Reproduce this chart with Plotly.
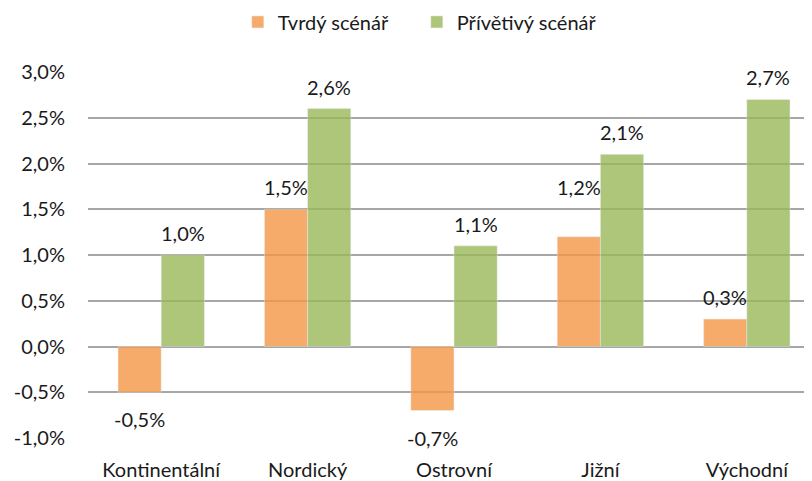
import plotly.graph_objects as go

regions = ["Kontinentální", "Nordický", "Ostrovní", "Jižní", "Východní"]
tvrdy = [-0.5, 1.5, -0.7, 1.2, 0.3]
privetivy = [1.0, 2.6, 1.1, 2.1, 2.7]

y_ticks = [-1.0, -0.5, 0.0, 0.5, 1.0, 1.5, 2.0, 2.5, 3.0]
y_tick_labels = ["-1,0%", "-0,5%", "0,0%", "0,5%", "1,0%", "1,5%", "2,0%", "2,5%", "3,0%"]

# bars are slightly see-through so the gridlines show faintly, as in the original
ORANGE = "#F69747"
GREEN = "#9AB858"
FONT = "Lato"
TEXT = "#1a1a1a"
FS = 20


def pct(v):
    return f"{v:.1f}%".replace(".", ",")


fig = go.Figure()
fig.add_bar(x=regions, y=tvrdy, name="Tvrdý scénář", marker_color=ORANGE, opacity=0.8)
fig.add_bar(x=regions, y=privetivy, name="Přívětivý scénář", marker_color=GREEN, opacity=0.8)

# data labels placed like the Excel original (a bit further off the bar ends)
for series, dx in ((tvrdy, -21.6), (privetivy, 21.6)):
    for reg, v in zip(regions, series):
        shift = 22 if v >= 0 else -27
        if series is tvrdy and reg == "Jižní":
            shift = 50  # moved up in the original
        fig.add_annotation(
            x=reg, y=v, text=pct(v), showarrow=False,
            xshift=dx, yshift=shift,
            font=dict(family=FONT, size=FS, color=TEXT),
        )

# page body adds 8px, so margins are measured 8px less than on screen
fig.update_layout(
    width=812,
    height=481,
    margin=dict(l=80, r=0, t=64, b=51, autoexpand=False),
    paper_bgcolor="white",
    plot_bgcolor="white",
    barmode="group",
    bargap=0.41,
    bargroupgap=0,
    font=dict(family=FONT, size=FS, color=TEXT),
    legend=dict(
        orientation="h",
        xref="container", x=0.283, xanchor="left",
        yref="container", y=0.971, yanchor="middle",
        font=dict(family=FONT, size=FS, color=TEXT),
        itemwidth=30,
        entrywidth=134,
    ),
    xaxis=dict(
        range=[-0.5, 4.5],
        showgrid=False,
        showline=False,
        ticks="",
        ticklabelstandoff=18,
        automargin=False,
    ),
    yaxis=dict(
        range=[-1.0, 3.0],
        tickvals=y_ticks,
        ticktext=y_tick_labels,
        showgrid=True,
        gridcolor="#A6A6A6",
        gridwidth=2,
        zeroline=False,
        ticks="",
        ticklabelstandoff=22,
        automargin=False,
    ),
)

fig.write_html("out.html")
